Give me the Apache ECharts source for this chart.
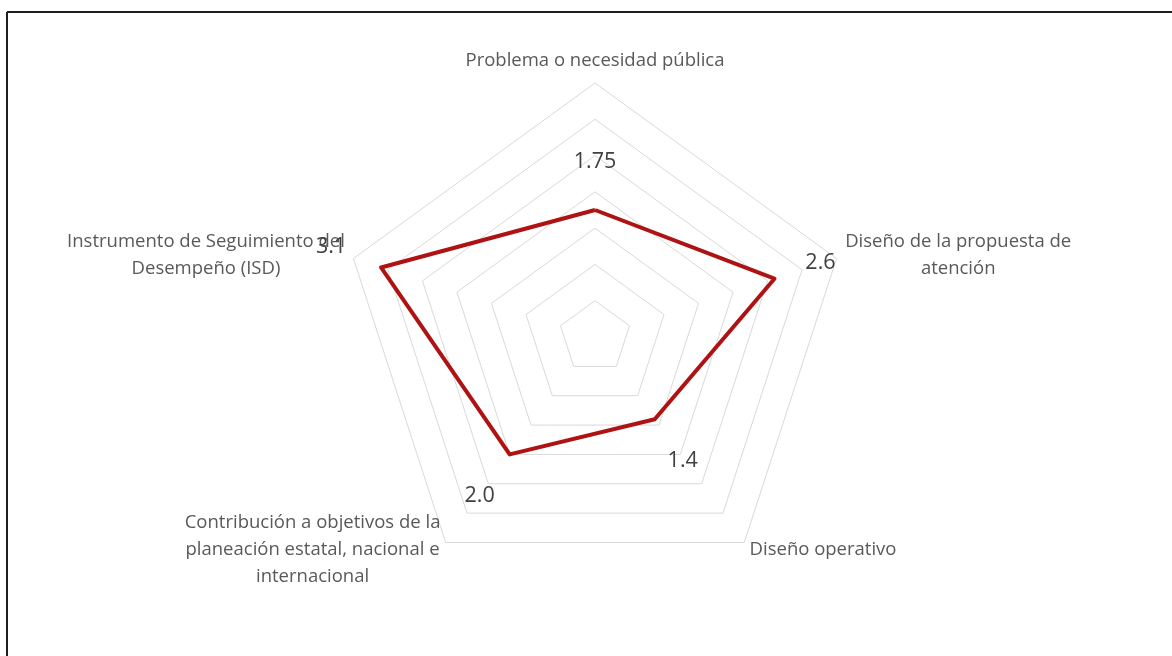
<!DOCTYPE html>
<html><head><meta charset="utf-8">
<script src="https://cdn.jsdelivr.net/npm/echarts@6/dist/echarts.min.js"></script>
<style>html,body{margin:0;padding:0;background:#fff}#c{width:1172px;height:656px}</style>
</head><body><div id="c"></div>
<script>
// Indicators in counter-clockwise order starting at the top
const categories = [
  'Problema o necesidad pública',
  'Instrumento de Seguimiento del\nDesempeño (ISD)',
  'Contribución a objetivos de la\nplaneación estatal, nacional e\ninternacional',
  'Diseño operativo',
  'Diseño de la propuesta de\natención'
];
const values = [1.75, 3.1, 2.0, 1.4, 2.6];
const valueLabels = ['1.75', '3.1', '2.0', '1.4', '2.6'];
const axisMax = 3.5;
const ringCount = 7;

// layout only: label offsets from each vertex
const labelOffsets = [[0, -48], [-50, -21], [-30, 41], [28, 42], [46, -16]];

const FONT = 'Open Sans';
const chart = echarts.init(document.getElementById('c'), null, {renderer: 'canvas'});

const labelItems = values.map((v, i) => ({
  value: values,
  symbol: 'circle',
  symbolSize: 1,
  itemStyle: {color: 'rgba(0,0,0,0)'},
  lineStyle: {width: 0, opacity: 0},
  label: {
    show: true,
    position: 'inside',
    offset: labelOffsets[i],
    color: '#404040',
    fontSize: 21.5,
    fontFamily: FONT,
    formatter: p => (p.dimensionIndex === i ? valueLabels[i] : '')
  }
}));

chart.setOption({
  animation: false,
  backgroundColor: '#ffffff',
  graphic: [
    {type: 'line', shape: {x1: 7, y1: 12, x2: 1172, y2: 12}, style: {stroke: '#1e1e1e', lineWidth: 2}},
    {type: 'line', shape: {x1: 7, y1: 12, x2: 7, y2: 656}, style: {stroke: '#1e1e1e', lineWidth: 2}}
  ],
  radar: {
    center: [595, 337],
    radius: 254,
    startAngle: 90,
    splitNumber: ringCount,
    shape: 'polygon',
    nameGap: 9,
    indicator: categories.map(n => ({name: n, min: 0, max: axisMax})),
    axisName: {
      color: '#595959',
      fontSize: 18.5,
      fontFamily: FONT,
      formatter: name => name.split('\n').map(l => '{c|' + l + '}').join('\n'),
      rich: {
        c: {align: 'center', color: '#595959', fontSize: 18.5, fontFamily: FONT, lineHeight: 27}
      }
    },
    axisLine: {show: false},
    axisTick: {show: false},
    axisLabel: {show: false},
    splitArea: {show: false},
    splitLine: {lineStyle: {color: '#d9d9d9', width: 1}}
  },
  series: [{
    type: 'radar',
    silent: true,
    data: [
      {value: values, symbol: 'none', lineStyle: {color: '#AE1212', width: 4}, label: {show: false}},
      ...labelItems
    ]
  }]
});
</script></body></html>
